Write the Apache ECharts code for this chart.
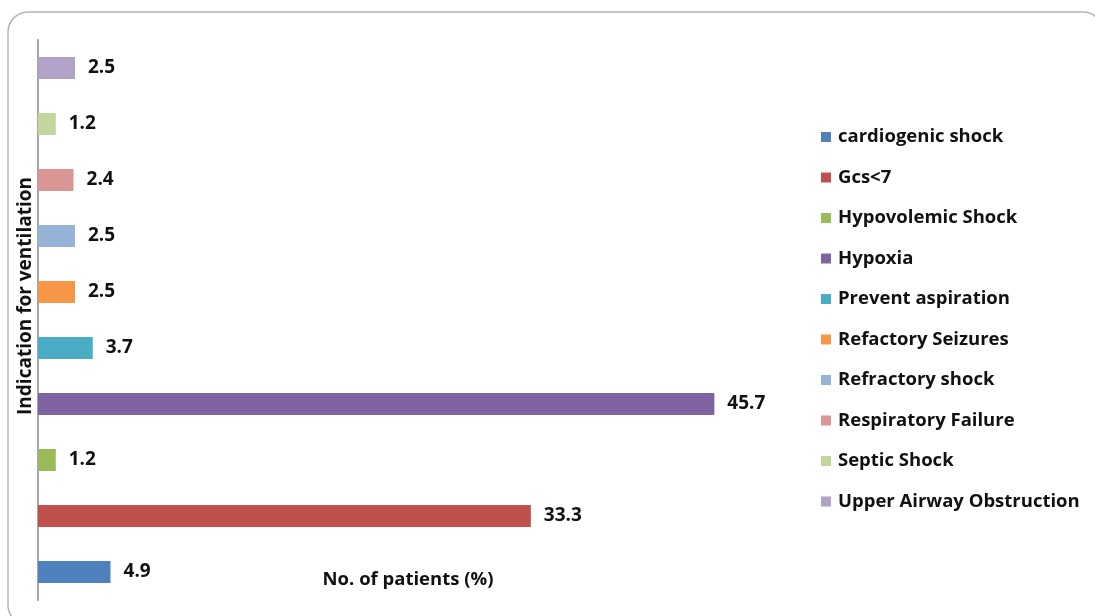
<!DOCTYPE html>
<html>
<head>
<meta charset="utf-8">
<script src="https://cdn.jsdelivr.net/npm/echarts@6/dist/echarts.min.js"></script>
<style>
  html, body { margin: 0; padding: 0; background: #ffffff; }
  #chart { width: 1095px; height: 616px; }
</style>
</head>
<body>
<div id="chart"></div>
<script>
// Indications for mechanical ventilation, share of patients (%)
const categories = [
  'cardiogenic shock',
  'Gcs<7',
  'Hypovolemic Shock',
  'Hypoxia',
  'Prevent aspiration',
  'Refactory Seizures',
  'Refractory shock',
  'Respiratory Failure',
  'Septic Shock',
  'Upper Airway Obstruction'
];
const percentages = [4.9, 33.3, 1.2, 45.7, 3.7, 2.5, 2.5, 2.4, 1.2, 2.5];
const palette = [
  '#4F81BD', '#C0504D', '#9BBB59', '#8064A2', '#4BACC6',
  '#F79646', '#95B3D7', '#D99694', '#C3D69B', '#B2A2C7'
];

const FONT = '"Open Sans", sans-serif';

// One series per indication so each gets its own legend entry;
// all share the "one" stack so every bar sits centred in its band.
const series = categories.map((name, i) => ({
  name: name,
  type: 'bar',
  stack: 'one',
  barWidth: 22,
  itemStyle: { color: palette[i] },
  label: {
    show: true,
    position: 'right',
    distance: 13,
    color: '#111',
    fontFamily: FONT,
    fontWeight: 'bold',
    fontSize: 19
  },
  data: categories.map((c, j) => (j === i ? percentages[i] : '-'))
}));

const chart = echarts.init(document.getElementById('chart'), null, { renderer: 'canvas' });
chart.setOption({
  backgroundColor: '#ffffff',
  animation: false,
  graphic: [
    {
      // rounded frame around the whole figure
      type: 'rect',
      shape: { x: 8, y: 12, width: 1095, height: 613, r: 20 },
      style: { fill: 'none', stroke: '#b4b4b4', lineWidth: 1.5 },
      z: -1
    },
    {
      // vertical axis title
      type: 'text',
      x: 26,
      y: 296,
      rotation: Math.PI / 2,
      style: {
        text: 'Indication for ventilation',
        fontFamily: FONT,
        fontWeight: 'bold',
        fontSize: 19,
        fill: '#111',
        align: 'center',
        verticalAlign: 'middle'
      }
    }
  ],
  grid: { left: 38, top: 40, width: 740, height: 560, containLabel: false },
  legend: {
    orient: 'vertical',
    left: 816,
    top: 121,
    itemWidth: 10,
    itemHeight: 10,
    itemGap: 18.5,
    icon: 'rect',
    data: categories,
    textStyle: {
      fontFamily: FONT,
      fontWeight: 'bold',
      fontSize: 18.5,
      color: '#111',
      lineHeight: 22,
      padding: [0, 0, 0, 2]
    }
  },
  xAxis: {
    type: 'value',
    min: 0,
    max: 50,
    axisLine: { show: false },
    axisTick: { show: false },
    axisLabel: { show: false },
    splitLine: { show: false },
    name: 'No. of patients (%)',
    nameLocation: 'middle',
    nameGap: -30,
    nameTextStyle: { fontFamily: FONT, fontWeight: 'bold', fontSize: 18.5, color: '#111' }
  },
  yAxis: {
    type: 'category',
    data: categories,
    axisLine: { show: true, lineStyle: { color: '#a6a6a6', width: 2 } },
    axisTick: { show: false },
    axisLabel: { show: false }
  },
  series: series
});
</script>
</body>
</html>
